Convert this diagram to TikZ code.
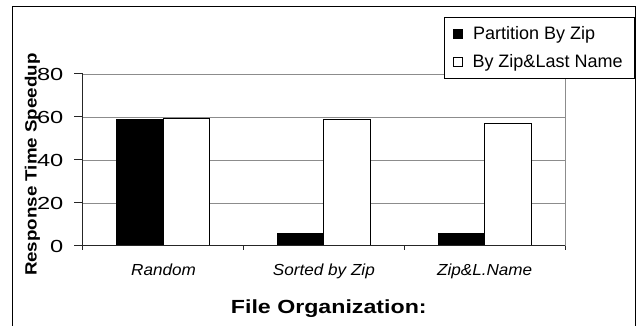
\documentclass[tikz,border=0pt]{standalone}
\usepackage{fontspec}
\setmainfont{Liberation Sans}
\begin{document}
\begin{tikzpicture}[x=1pt,y=1pt,
  frameline/.style={line width=1pt,black},
  gridline/.style={line width=0.9pt,gray!90},
  axisline/.style={line width=1pt,black!85},
  barblack/.style={draw=black,line width=1pt,fill=black},
  barwhite/.style={draw=black,line width=1pt,fill=white},
  ticklabel/.style={inner sep=0pt,anchor=east,font=\fontsize{17.5}{20}\selectfont},
  catlabel/.style={inner sep=0pt,anchor=base,font=\fontsize{16}{19}\selectfont\itshape},
  legendtext/.style={inner sep=0pt,anchor=base west,font=\fontsize{18}{21}\selectfont}]
\useasboundingbox (0,0) rectangle (641,326);
\fill[white] (0,0) rectangle (641,326);

% chart frame (open at the bottom edge)
\draw[frameline] (12.7,-2) |- (635,319.3) -- (635,-2);

% gridlines: value v sits at y = 80 + 2.15 v
\foreach \v in {20,40,60,80}
  \draw[gridline] (82.7,{80+2.15*\v}) -- (565,{80+2.15*\v});
\draw[gridline] (565,80) -- (565,252);

% bars: category width 160.8, bar width 46.3
\def\bw{46.3}
\foreach \c/\a/\b in {0/58.9/59.4, 1/5.6/58.7, 2/5.6/57.1}{
  \pgfmathsetmacro{\cx}{82.7+160.8*\c+80.4}
  \draw[barblack] ({\cx-\bw},80) rectangle (\cx,{80+2.15*\a});
  \draw[barwhite] (\cx,80) rectangle ({\cx+\bw},{80+2.15*\b});
}

% axes and tick marks
\draw[axisline] (82.7,76) -- (82.7,252);
\foreach \v in {0,20,40,60,80}
  \draw[axisline] (74,{80+2.15*\v}) -- (82.7,{80+2.15*\v});
\draw[axisline] (74,80) -- (565,80);
\foreach \k in {1,2,3}
  \draw[axisline] ({82.7+160.8*\k},80) -- ({82.7+160.8*\k},76);

% tick labels
\node[ticklabel] (t0) at (63.5,80) {\scalebox{1.35}[1]{0}};
\node[ticklabel] (t20) at (63.5,123) {\scalebox{1.35}[1]{20}};
\node[ticklabel] (t40) at (63.5,166) {\scalebox{1.35}[1]{40}};
\node[ticklabel] (t60) at (63.5,209) {\scalebox{1.35}[1]{60}};
\node[ticklabel] (t80) at (63.5,252) {\scalebox{1.35}[1]{80}};

% axis title
\node[inner sep=0pt,anchor=base,rotate=90,font=\fontsize{16.3}{19}\selectfont\bfseries]
  (ytitle) at (36.7,161.3) {\scalebox{1.15}[1]{Response Time Speedup}};

% category labels
\node[catlabel] (c1) at (163.5,50.3) {\scalebox{1.07}[1]{Random}};
\node[catlabel] (c2) at (323.9,50.3) {\scalebox{1.07}[1]{Sorted by Zip}};
\node[catlabel] (c3) at (484.7,50.3) {\scalebox{1.07}[1]{Zip\&L.Name}};

% x title
\node[inner sep=0pt,anchor=base,font=\fontsize{19}{22}\selectfont\bfseries]
  (xtitle) at (328.8,12) {\scalebox{1.22}[1]{File Organization:}};

% legend
\draw[line width=1pt,black,fill=white] (444,247.7) rectangle (634.5,308.7);
\fill[black] (452.7,286.7) rectangle (463.3,297.4);
\draw[line width=0.9pt,black] (453.2,259.2) rectangle (462.4,268.6);
\node[legendtext] (l1) at (473,286.7) {Partition By Zip};
\node[legendtext] (l2) at (472.3,258.7) {By Zip\&Last Name};
\end{tikzpicture}
\end{document}
